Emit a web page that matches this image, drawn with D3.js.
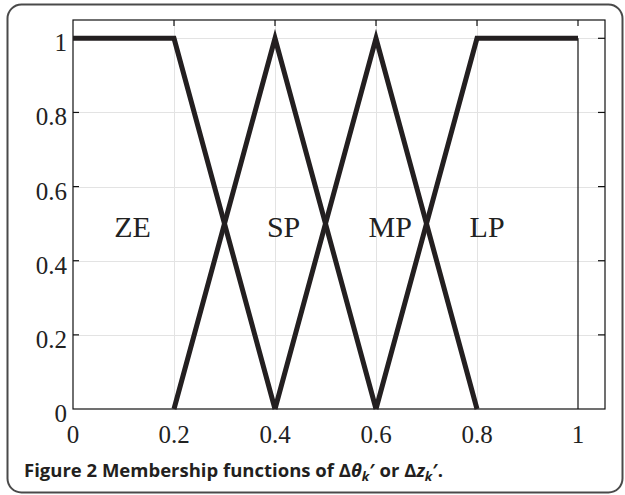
<!DOCTYPE html>
<html>
<head>
<meta charset="utf-8">
<script src="https://cdn.jsdelivr.net/npm/d3@7"></script>
<style>
  body { margin: 0; background: #fff; }
  svg { display: block; }
</style>
</head>
<body>
<svg id="chart" width="625" height="495"></svg>
<script>

// Membership function data
const xTicks = [0, 0.2, 0.4, 0.6, 0.8, 1];
const yTicks = [0, 0.2, 0.4, 0.6, 0.8, 1];
const xTickLabels = ["0", "0.2", "0.4", "0.6", "0.8", "1"];
const yTickLabels = ["0", "0.2", "0.4", "0.6", "0.8", "1"];

const setNames = ["ZE", "SP", "MP", "LP"];
const setX = [[0, 0.2, 0.4], [0.2, 0.4, 0.6], [0.4, 0.6, 0.8], [0.6, 0.8, 1]];
const setY = [[1, 1, 0], [0, 1, 0], [0, 1, 0], [0, 1, 1]];
const labelX = [0.118, 0.417, 0.628, 0.82];
const labelY = [0.49, 0.49, 0.49, 0.49];

// Draw chart
function drawChart(svgId) {

	const svg = d3.select(svgId);

	// Plot box
	const box = {left: 73, right: 605, top: 20, bottom: 409};

	const x = d3.scaleLinear().domain([0, 1]).range([box.left, 578]);
	const y = d3.scaleLinear().domain([0, 1]).range([box.bottom, 38.3]);

	// Outer rounded frame
	svg.append("rect")
		.attr("x", 7.5).attr("y", 4.5)
		.attr("width", 615).attr("height", 488)
		.attr("rx", 14)
		.attr("fill", "none")
		.attr("stroke", "#4a4a4a")
		.attr("stroke-width", 2);

	// Grid
	const grid = svg.append("g").attr("stroke", "#e3e3e3").attr("stroke-width", 1);
	grid.selectAll("line.gx")
		.data(xTicks.slice(1, -1))
		.join("line")
		.attr("x1", d => Math.round(x(d)) + 0.5).attr("x2", d => Math.round(x(d)) + 0.5)
		.attr("y1", box.top).attr("y2", box.bottom);
	grid.selectAll("line.gy")
		.data(yTicks.slice(1))
		.join("line")
		.attr("x1", box.left).attr("x2", box.right)
		.attr("y1", d => Math.round(y(d)) + 0.5).attr("y2", d => Math.round(y(d)) + 0.5);

	// Axes (inward ticks)
	const ax = svg.append("g").attr("stroke", "#111").attr("stroke-width", 1.2).attr("fill", "none");
	ax.append("rect")
		.attr("x", box.left).attr("y", box.top)
		.attr("width", box.right - box.left).attr("height", box.bottom - box.top);
	ax.selectAll("line.tt")
		.data(xTicks.slice(1))
		.join("line")
		.attr("x1", d => x(d)).attr("x2", d => x(d))
		.attr("y1", box.top).attr("y2", box.top + 6);
	ax.selectAll("line.tl")
		.data(yTicks.slice(1))
		.join("line")
		.attr("x1", box.left).attr("x2", box.left + 6)
		.attr("y1", d => y(d)).attr("y2", d => y(d));
	ax.selectAll("line.tr")
		.data(yTicks.slice(1))
		.join("line")
		.attr("x1", box.right - 7).attr("x2", box.right)
		.attr("y1", d => y(d)).attr("y2", d => y(d));
	// thin line at x = 1
	ax.append("line")
		.attr("x1", x(1)).attr("x2", x(1))
		.attr("y1", y(1)).attr("y2", y(0));

	// Tick labels
	const font = "'Liberation Serif', 'DejaVu Serif', serif";
	svg.append("g").selectAll("text")
		.data(xTicks)
		.join("text")
		.attr("x", d => x(d))
		.attr("y", box.bottom + 34)
		.attr("text-anchor", "middle")
		.style("font-family", font)
		.style("font-size", "25px")
		.attr("fill", "#222")
		.text((d, i) => xTickLabels[i]);
	svg.append("g").selectAll("text")
		.data(yTicks)
		.join("text")
		.attr("x", box.left - 6)
		.attr("y", d => y(d) + 13)
		.attr("text-anchor", "end")
		.style("font-family", font)
		.style("font-size", "25px")
		.attr("fill", "#222")
		.text((d, i) => yTickLabels[i]);

	// Membership functions
	const line = d3.line().x(d => x(d[0])).y(d => y(d[1]));
	svg.append("g").selectAll("path")
		.data(setNames.map((n, i) => setX[i].map((v, j) => [v, setY[i][j]])))
		.join("path")
		.attr("d", line)
		.attr("fill", "none")
		.attr("stroke", "#231f20")
		.attr("stroke-width", 5)
		.attr("stroke-linejoin", "miter")
		.attr("stroke-linecap", "butt");

	// Set labels
	svg.append("g").selectAll("text")
		.data(setNames)
		.join("text")
		.attr("x", (d, i) => x(labelX[i]))
		.attr("y", (d, i) => y(labelY[i]) + 10)
		.attr("text-anchor", "middle")
		.style("font-family", font)
		.style("font-size", "30px")
		.attr("fill", "#222")
		.text(d => d);

	// Caption
	const cap = svg.append("text")
		.attr("x", 24).attr("y", 477)
		.style("font-family", "'Open Sans', 'Noto Sans', sans-serif")
		.style("font-size", "18.5px")
		.style("font-weight", "bold")
		.attr("fill", "#231f20");
	cap.append("tspan").text("Figure 2 Membership functions of Δ");
	cap.append("tspan").style("font-style", "italic").text("θ");
	cap.append("tspan").style("font-style", "italic").style("font-size", "13px").attr("dy", 4).text("k");
	cap.append("tspan").attr("dy", -4).text("′ or Δ");
	cap.append("tspan").style("font-style", "italic").text("z");
	cap.append("tspan").style("font-style", "italic").style("font-size", "13px").attr("dy", 4).text("k");
	cap.append("tspan").attr("dy", -4).text("′.");
}

drawChart("#chart");
</script>
</body>
</html>
